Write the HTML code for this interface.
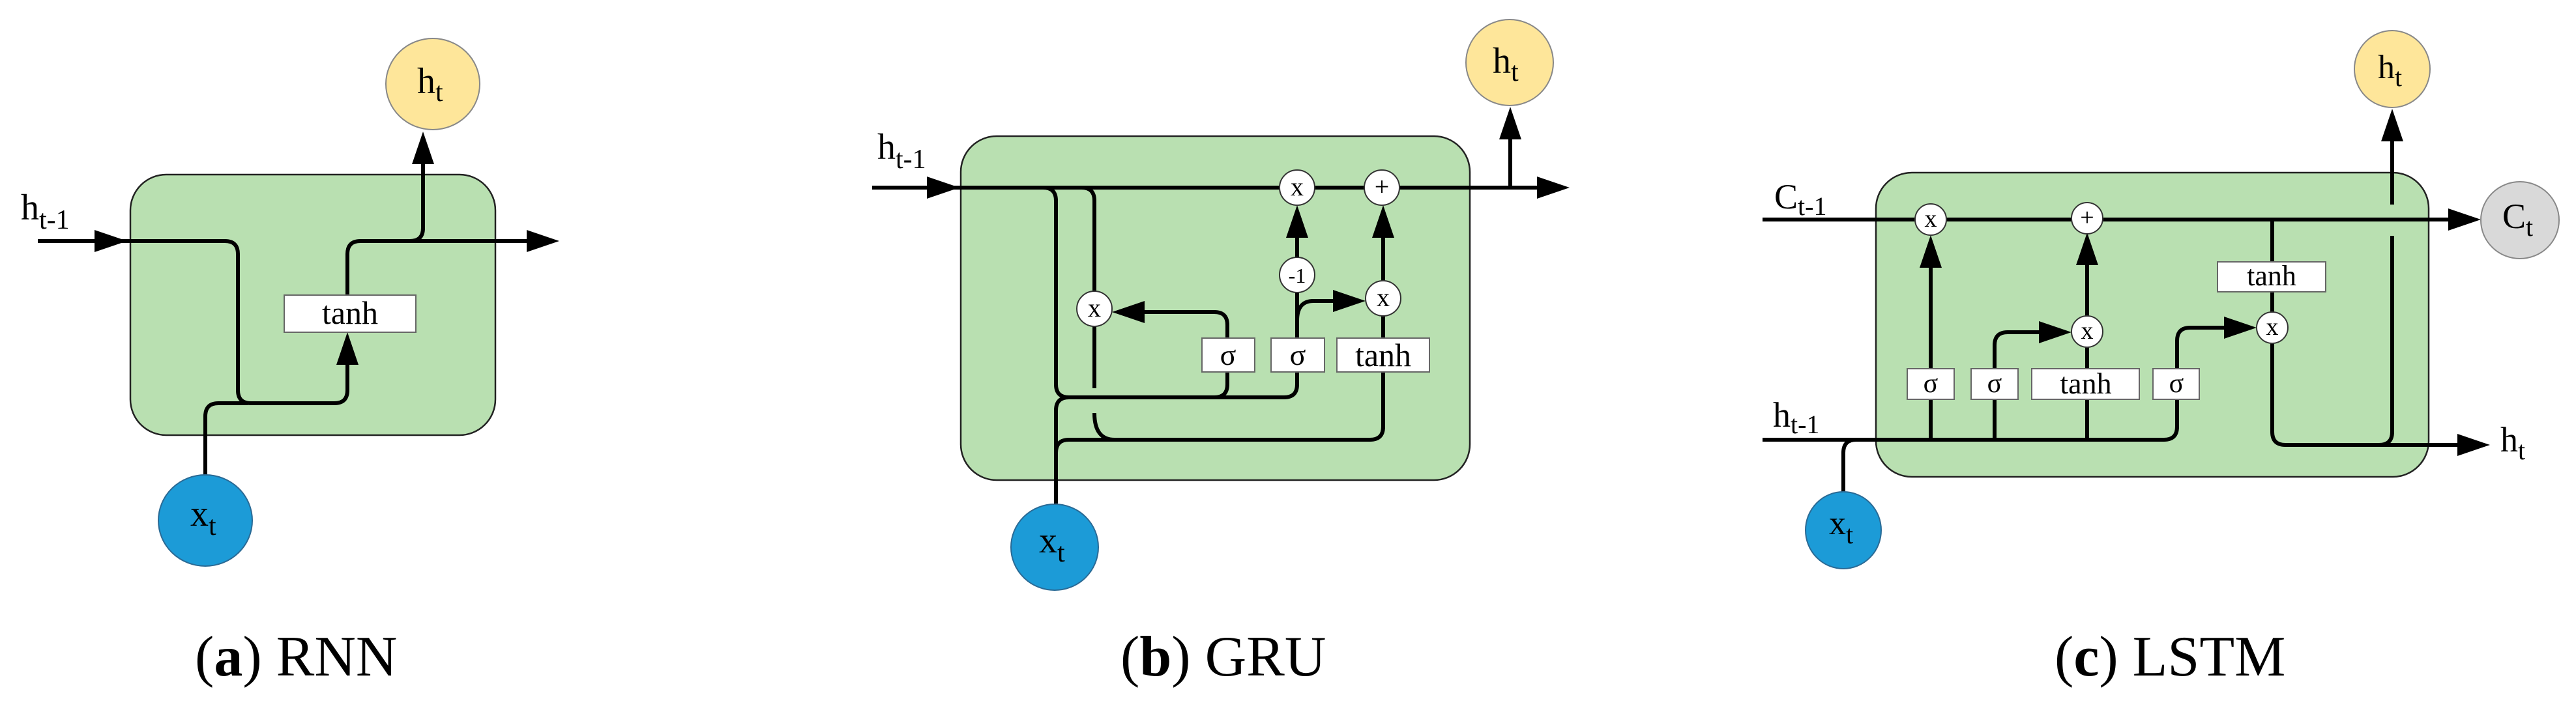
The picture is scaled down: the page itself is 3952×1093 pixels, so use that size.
<!DOCTYPE html>
<html><head><meta charset="utf-8"><style>
html,body{margin:0;padding:0;background:#fff;}
svg{display:block;font-family:"Liberation Serif","DejaVu Serif",serif;}
svg text{font-family:"Liberation Serif","DejaVu Serif",serif;fill:#000;}
</style></head><body>
<svg width="3952" height="1093" viewBox="0 0 3952 1093" xmlns="http://www.w3.org/2000/svg" font-family="Liberation Serif, DejaVu Serif, serif">
<!-- ===== Panel a: RNN ===== -->
<rect x="200" y="268" width="560" height="400" rx="55" fill="#b9e0b1" stroke="#222" stroke-width="2.5"/>
<g fill="none" stroke="#000" stroke-width="6">
<path d="M58,370 H345 Q365,370 365,390 V599 Q365,619 385,619 H513 Q533,619 533,599 V555"/>
<path d="M533,453 V390 Q533,370 553,370 H629 Q649,370 649,350 V250"/>
<path d="M629,370 H812"/>
<path d="M315,729 V639 Q315,619 335,619 H380"/>
</g>
<g fill="#000">
<polygon points="195,370 145,353 145,387"/>
<polygon points="533,510 516,560 550,560"/>
<polygon points="649,202 632,252 666,252"/>
<polygon points="858,370 808,353 808,387"/>
</g>
<rect x="436" y="453" width="202" height="57" fill="#fff" stroke="#666" stroke-width="2"/>
<text x="537" y="497" font-size="50" text-anchor="middle">tanh</text>
<ellipse cx="664" cy="129" rx="72" ry="70" fill="#fee69a" stroke="#888" stroke-width="2"/>
<text x="640" y="143" font-size="56">h<tspan font-size="42" dy="12">t</tspan></text>
<ellipse cx="315" cy="799" rx="72" ry="70" fill="#1c9bd7" stroke="#2a6a95" stroke-width="2"/>
<text x="292" y="807" font-size="56">x<tspan font-size="42" dy="14">t</tspan></text>
<text x="32" y="337" font-size="56">h<tspan font-size="42" dy="14">t-1</tspan></text>
<text x="299" y="1037" font-size="88">(<tspan font-weight="bold">a</tspan>) RNN</text>

<!-- ===== Panel b: GRU ===== -->
<rect x="1474" y="209" width="781" height="528" rx="55" fill="#b9e0b1" stroke="#222" stroke-width="2.5"/>
<g fill="none" stroke="#000" stroke-width="6">
<path d="M1338,288 H2360"/>
<path d="M2317,288 V212"/>
<path d="M1600,288 Q1620,288 1620,308 V590 Q1620,610 1640,610 H1970 Q1990,610 1990,590 V571"/>
<path d="M1883,571 V590 Q1883,610 1863,610"/>
<path d="M1883,519 V499 Q1883,479 1863,479 H1754"/>
<path d="M1659,288 Q1679,288 1679,308 V596"/>
<path d="M1679,634 Q1679,675 1710,675 H2102 Q2122,675 2122,655 V571"/>
<path d="M1620,773 V630 Q1620,610 1640,610"/>
<path d="M1620,695 Q1620,675 1640,675 H1710"/>
<path d="M1990,519 V449"/>
<path d="M1990,395 V362"/>
<path d="M1990,492 Q1990,462 2015,462 H2048"/>
<path d="M2122,519 V485"/>
<path d="M2122,431 V362"/>
</g>
<g fill="#000">
<polygon points="1472,288 1422,271 1422,305"/>
<polygon points="2408,288 2358,271 2358,305"/>
<polygon points="2317,164 2300,214 2334,214"/>
<polygon points="1706,479 1756,462 1756,496"/>
<polygon points="1990,315 1973,365 2007,365"/>
<polygon points="2095,462 2045,445 2045,479"/>
<polygon points="2122,315 2105,365 2139,365"/>
</g>
<g fill="#fff" stroke="#333" stroke-width="2">
<circle cx="1990" cy="288" r="27"/>
<circle cx="2120" cy="288" r="27"/>
<circle cx="1990" cy="422" r="27"/>
<circle cx="2122" cy="458" r="27"/>
<circle cx="1679" cy="474" r="27"/>
<rect x="1844" y="519" width="81" height="52" stroke="#666"/>
<rect x="1950" y="519" width="82" height="52" stroke="#666"/>
<rect x="2051" y="519" width="142" height="52" stroke="#666"/>
</g>
<g font-size="40" text-anchor="middle">
<text x="1990" y="300">x</text>
<text x="2120" y="300">+</text>
<text x="1990" y="434" font-size="32">-1</text>
<text x="2122" y="470">x</text>
<text x="1679" y="486">x</text>
</g>
<g font-size="46" text-anchor="middle">
<text x="1884" y="560">σ</text>
<text x="1991" y="560">σ</text>
<text x="2122" y="562" font-size="50">tanh</text>
</g>
<ellipse cx="2316" cy="96" rx="67" ry="66" fill="#fee69a" stroke="#888" stroke-width="2"/>
<text x="2290" y="112" font-size="56">h<tspan font-size="42" dy="12">t</tspan></text>
<ellipse cx="1618" cy="840" rx="67" ry="66" fill="#1c9bd7" stroke="#2a6a95" stroke-width="2"/>
<text x="1594" y="848" font-size="56">x<tspan font-size="42" dy="14">t</tspan></text>
<text x="1346" y="244" font-size="56">h<tspan font-size="42" dy="14">t-1</tspan></text>
<text x="1719" y="1037" font-size="88">(<tspan font-weight="bold">b</tspan>) GRU</text>

<!-- ===== Panel c: LSTM ===== -->
<rect x="2878" y="265" width="848" height="467" rx="55" fill="#b9e0b1" stroke="#222" stroke-width="2.5"/>
<g fill="none" stroke="#000" stroke-width="6">
<path d="M2704,337 H3760"/>
<path d="M2704,675 H3320 Q3340,675 3340,655 V613"/>
<path d="M2828,756 V695 Q2828,675 2848,675"/>
<path d="M2962,675 V613"/>
<path d="M2962,566 V408"/>
<path d="M3060,675 V613"/>
<path d="M3060,566 V530 Q3060,510 3080,510 H3130"/>
<path d="M3202,675 V613"/>
<path d="M3202,566 V533"/>
<path d="M3202,485 V404"/>
<path d="M3340,566 V523 Q3340,503 3360,503 H3414"/>
<path d="M3486,337 V402"/>
<path d="M3486,448 V479"/>
<path d="M3486,527 V663 Q3486,683 3506,683 H3772"/>
<path d="M3650,683 Q3670,683 3670,663 V362"/>
<path d="M3670,314 V214"/>
</g>
<g fill="#000">
<polygon points="3806,337 3756,320 3756,354"/>
<polygon points="2962,361 2945,411 2979,411"/>
<polygon points="3178,510 3128,493 3128,527"/>
<polygon points="3202,357 3185,407 3219,407"/>
<polygon points="3462,503 3412,486 3412,520"/>
<polygon points="3820,683 3770,666 3770,700"/>
<polygon points="3670,167 3653,217 3687,217"/>
</g>
<g fill="#fff" stroke="#333" stroke-width="2">
<circle cx="2962" cy="337" r="24"/>
<circle cx="3202" cy="335" r="24"/>
<circle cx="3202" cy="509" r="24"/>
<circle cx="3486" cy="503" r="24"/>
<rect x="2926" y="566" width="72" height="47" stroke="#666"/>
<rect x="3024" y="566" width="72" height="47" stroke="#666"/>
<rect x="3117" y="566" width="165" height="47" stroke="#666"/>
<rect x="3303" y="566" width="71" height="47" stroke="#666"/>
<rect x="3402" y="402" width="166" height="46" stroke="#666"/>
</g>
<g font-size="38" text-anchor="middle">
<text x="2962" y="348">x</text>
<text x="3202" y="346">+</text>
<text x="3202" y="520">x</text>
<text x="3486" y="514">x</text>
</g>
<g font-size="42" text-anchor="middle">
<text x="2962" y="602">σ</text>
<text x="3060" y="602">σ</text>
<text x="3200" y="604" font-size="46">tanh</text>
<text x="3339" y="602">σ</text>
<text x="3485" y="438" font-size="44">tanh</text>
</g>
<ellipse cx="3670" cy="106" rx="58" ry="59" fill="#fee69a" stroke="#888" stroke-width="2"/>
<text x="3648" y="120" font-size="52">h<tspan font-size="40" dy="12">t</tspan></text>
<ellipse cx="3866" cy="338" rx="60" ry="59" fill="#d9d9d9" stroke="#888" stroke-width="2"/>
<text x="3839" y="350" font-size="54">C<tspan font-size="40" dy="12">t</tspan></text>
<ellipse cx="2828" cy="814" rx="58" ry="59" fill="#1c9bd7" stroke="#2a6a95" stroke-width="2"/>
<text x="2806" y="820" font-size="52">x<tspan font-size="40" dy="14">t</tspan></text>
<text x="2722" y="320" font-size="54">C<tspan font-size="40" dy="10">t-1</tspan></text>
<text x="2720" y="655" font-size="54">h<tspan font-size="40" dy="10">t-1</tspan></text>
<text x="3836" y="693" font-size="54">h<tspan font-size="40" dy="12">t</tspan></text>
<text x="3152" y="1037" font-size="88">(<tspan font-weight="bold">c</tspan>) LSTM</text>
</svg>
</body></html>
